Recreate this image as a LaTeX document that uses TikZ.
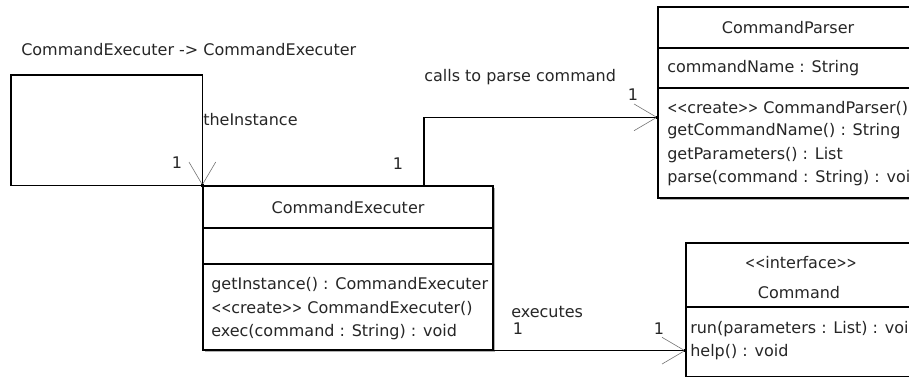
\documentclass[tikz,border=0pt]{standalone}
\usepackage{fontspec}
\setmainfont{DejaVu Sans}
\usetikzlibrary{calc,arrows.meta,shadows}
% comillas de estereotipo, algo estrechas
\newcommand{\menores}{\scalebox{0.75}[1]{<}\scalebox{0.75}[1]{<}}
\newcommand{\mayores}{\scalebox{0.75}[1]{>}\scalebox{0.75}[1]{>}}

\begin{document}
\begin{tikzpicture}[x=0.75pt,y=-0.75pt,>=latex,
  font=\fontsize{12}{14}\selectfont,
  clase/.style={draw,line width=1pt,fill=white,inner sep=0pt,
    drop shadow={shadow xshift=1.8pt,shadow yshift=-1.8pt,fill=black!30,opacity=1}},
  divisor/.style={line width=1pt},
  nombre/.style={inner sep=0pt,text=black!85},
  miembro/.style={anchor=west,inner sep=0pt,text=black!85},
  etq/.style={inner sep=0pt,text=black!85},
  asoc/.style={line width=0.8pt,
    -{Straight Barb[length=17pt,width=20pt,line width=0.45pt,color=black!55]}}]
  \def\px{0.75pt}

  % Ventana de dibujo
  \useasboundingbox (0,0) rectangle (909,376);
  \clip (0,0) rectangle (909,376);

  % Cajas de las clases
  \node[clase,minimum width=290*\px,minimum height=164*\px] (exec) at (348,268) {};
  \node[clase,minimum width=260*\px,minimum height=191*\px] (parser) at (788,102.5) {};
  \node[clase,minimum width=232*\px,minimum height=134*\px] (cmd) at (802,310) {};

  % Compartimentos
  \draw[divisor] (exec.west |- 0,228) -- (exec.east |- 0,228);
  \draw[divisor] (exec.west |- 0,264) -- (exec.east |- 0,264);
  \draw[divisor] (parser.west |- 0,48) -- (parser.east |- 0,48);
  \draw[divisor] (parser.west |- 0,88) -- (parser.east |- 0,88);
  \draw[divisor] (cmd.west |- 0,307) -- (cmd.east |- 0,307);

  % CommandExecuter
  \node[nombre] (execnom) at (348,208) {CommandExecuter};
  \foreach \t [count=\i] in {getInstance() : CommandExecuter,
      {\menores create\mayores{} CommandExecuter()}, exec(command : String) : void}{
    \node[miembro] (execop\i) at (211,{285+(\i-1)*23.5}) {\t};
  }

  % CommandParser
  \node[nombre] (parsernom) at (788,28) {CommandParser};
  \node[miembro] (parseratr) at (667,68) {commandName : String};
  \foreach \t [count=\i] in {{\menores create\mayores{} CommandParser()},
      getCommandName() : String, getParameters() : List,
      parse(command : String) : void}{
    \node[miembro] (parserop\i) at (667,{108+(\i-1)*23.4}) {\t};
  }

  % Command
  \node[nombre] (cmdest) at (801,263) {\menores interface\mayores};
  \node[nombre] (cmdnom) at (799,293) {Command};
  \node[miembro] (cmdop1) at (690,329) {run(parameters : List) : void};
  \node[miembro] (cmdop2) at (690,352) {help() : void};

  % Asociaciones
  \coordinate (bucle) at (11,75);
  \coordinate (ptip) at ($(parser.north west)+(0,111)$);
  \coordinate (ctip) at (exec.south east -| cmd.west);
  \draw[asoc] (exec.north west) -| (bucle) -| (exec.north west);
  \draw[asoc] ([xshift=76*\px]exec.north) |- (ptip);
  \draw[asoc] (exec.south east) -- (ctip);
  \foreach \p in {ptip,ctip,exec.north west}
    \fill ($(\p)+(-1.7,-1.7)$) rectangle ++(3.4,3.4);

  % Etiquetas y multiplicidades
  \node[etq,anchor=west] (lblbucle) at (21,50) {CommandExecuter -> CommandExecuter};
  \node[etq,anchor=west] (rolbucle) at (203,120) {theInstance};
  \node[etq] (mbucle) at (177,163) {1};
  \node[etq,anchor=west] (lblparse) at (424,77) {calls to parse command};
  \node[etq] (morigp) at (398,164) {1};
  \node[etq] (mdestp) at (633,95) {1};
  \node[etq,anchor=west] (lblexec) at (511,312) {executes};
  \node[etq] (morigc) at (518,329) {1};
  \node[etq] (mdestc) at (659,329) {1};
\end{tikzpicture}
\end{document}
